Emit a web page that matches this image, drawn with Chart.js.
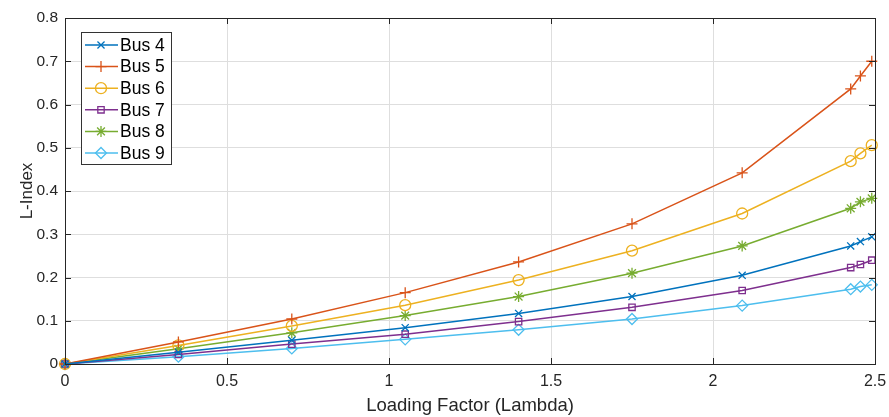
<!DOCTYPE html>
<html>
<head>
<meta charset="utf-8">
<script src="https://cdn.jsdelivr.net/npm/chart.js@4"></script>
<style>
  html,body{margin:0;padding:0;background:#fff;}
  #wrap{width:889px;height:417px;}
</style>
</head>
<body>
<div id="wrap"><canvas id="c" width="889" height="417"></canvas></div>
<script>
// loading factor (x) and L-index per bus
const lambda = [0, 0.35, 0.7, 1.05, 1.4, 1.75, 2.09, 2.425, 2.455, 2.49];
const bus4 = [0, 0.027, 0.055, 0.084, 0.117, 0.156, 0.205, 0.273, 0.283, 0.294];
const bus5 = [0, 0.051, 0.104, 0.165, 0.236, 0.324, 0.442, 0.636, 0.666, 0.700];
const bus6 = [0, 0.043, 0.088, 0.136, 0.194, 0.262, 0.348, 0.469, 0.487, 0.506];
const bus7 = [0, 0.022, 0.046, 0.069, 0.098, 0.131, 0.170, 0.223, 0.230, 0.240];
const bus8 = [0, 0.035, 0.072, 0.112, 0.156, 0.210, 0.273, 0.360, 0.375, 0.383];
const bus9 = [0, 0.017, 0.036, 0.057, 0.079, 0.104, 0.135, 0.173, 0.179, 0.183];
const seriesNames = ['Bus 4','Bus 5','Bus 6','Bus 7','Bus 8','Bus 9'];
const xTicks = [0, 0.5, 1, 1.5, 2, 2.5];
const yTicks = [0, 0.1, 0.2, 0.3, 0.4, 0.5, 0.6, 0.7, 0.8];

const FONT = '"Liberation Sans", Arial, Helvetica, sans-serif';
const INK = '#262626';
const colors = ['#0072BD','#D95319','#EDB120','#7E2F8E','#77AC30','#4DBEEE'];
const styles = ['crossRot','cross','circle','rect','star','rectRot'];
const radii  = [5, 5.5, 5.5, 4.5, 5.5, 5.5];

const series = [bus4, bus5, bus6, bus7, bus8, bus9];
const datasets = series.map((arr, i) => ({
  label: seriesNames[i],
  data: arr.map((v, k) => ({x: lambda[k], y: v})),
  borderColor: colors[i],
  backgroundColor: colors[i],
  borderWidth: 1.5,
  pointStyle: styles[i],
  pointRadius: radii[i],
  pointBorderColor: colors[i],
  pointBackgroundColor: 'rgba(0,0,0,0)',
  pointBorderWidth: 1.3,
  tension: 0,
  clip: false
}));

// box + inward ticks (matlab style) and the in-plot legend
const boxPlugin = {
  id: 'box',
  afterDatasetsDraw(chart){
    const {ctx, chartArea: a, scales: {x, y}} = chart;
    ctx.save();
    ctx.strokeStyle = INK;
    ctx.lineWidth = 1;
    ctx.strokeRect(a.left + 0.5, a.top + 0.5, a.right - a.left, a.bottom - a.top);
    ctx.beginPath();
    xTicks.forEach(v => {
      const px = Math.round(x.getPixelForValue(v)) + 0.5;
      ctx.moveTo(px, a.bottom); ctx.lineTo(px, a.bottom - 6);
      ctx.moveTo(px, a.top); ctx.lineTo(px, a.top + 6);
    });
    yTicks.forEach(v => {
      const py = Math.round(y.getPixelForValue(v)) + 0.5;
      ctx.moveTo(a.left, py); ctx.lineTo(a.left + 6, py);
      ctx.moveTo(a.right, py); ctx.lineTo(a.right - 6, py);
    });
    ctx.stroke();

    // legend
    const lx = 81, ly = 32, lw = 90, lh = 132, row = 21.6;
    ctx.fillStyle = '#fff';
    ctx.fillRect(lx, ly, lw, lh);
    ctx.strokeStyle = '#333';
    ctx.strokeRect(lx + 0.5, ly + 0.5, lw, lh);
    ctx.font = '17.5px ' + FONT;
    ctx.textBaseline = 'middle';
    chart.data.datasets.forEach((ds, i) => {
      const cy = ly + 13 + i * row;
      ctx.strokeStyle = ds.borderColor;
      ctx.lineWidth = 1.5;
      ctx.beginPath(); ctx.moveTo(lx + 4, cy); ctx.lineTo(lx + 37, cy); ctx.stroke();
      ctx.lineWidth = 1.3;
      ctx.fillStyle = 'rgba(0,0,0,0)';
      Chart.helpers.drawPoint(ctx, {pointStyle: ds.pointStyle, radius: ds.pointRadius, rotation: 0, borderWidth: 1.3}, lx + 20, cy);
      ctx.fillStyle = '#000';
      ctx.fillText(ds.label, lx + 39, cy + 1);
    });
    ctx.restore();
  }
};

new Chart(document.getElementById('c'), {
  type: 'line',
  data: { datasets },
  options: {
    responsive: false,
    animation: false,
    layout: { padding: { top: 18, right: 14, left: 17, bottom: 0 } },
    plugins: { legend: { display: false }, tooltip: { enabled: false } },
    scales: {
      x: {
        type: 'linear', min: 0, max: 2.5,
        afterBuildTicks: s => { s.ticks = xTicks.map(v => ({value: v})); },
        afterFit: s => { s.height = 53; s.paddingLeft = 0; s.paddingRight = 0; },
        grid: { color: '#dedede', drawTicks: false },
        border: { display: false },
        ticks: { color: INK, font: { family: FONT, size: 16 }, padding: 8, maxRotation: 0,
                 callback: v => String(v) },
        title: { display: true, text: 'Loading Factor (Lambda)', color: INK,
                 font: { family: FONT, size: 18.5 }, padding: { top: 0, bottom: 0 } }
      },
      y: {
        type: 'linear', min: 0, max: 0.8,
        afterBuildTicks: s => { s.ticks = yTicks.map(v => ({value: v})); },
        afterFit: s => { s.width = 48; s.paddingTop = 0; s.paddingBottom = 0; },
        grid: { color: '#dedede', drawTicks: false },
        border: { display: false },
        ticks: { color: INK, font: { family: FONT, size: 15.5 }, padding: 7,
                 callback: v => String(Math.round(v * 10) / 10) },
        title: { display: true, text: 'L-Index', color: INK,
                 font: { family: FONT, size: 17 }, padding: { top: 0, bottom: 0 } }
      }
    }
  },
  plugins: [boxPlugin]
});
</script>
</body>
</html>
